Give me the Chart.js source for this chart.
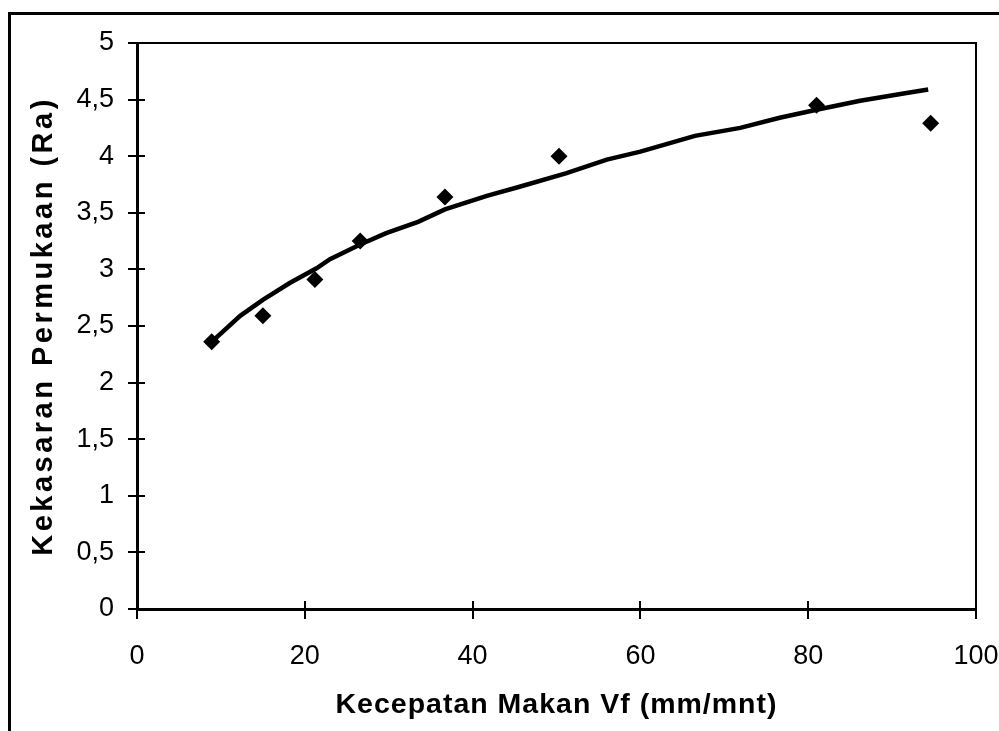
<!DOCTYPE html>
<html>
<head>
<meta charset="utf-8">
<script src="https://cdn.jsdelivr.net/npm/chart.js@4"></script>
<style>
html,body{margin:0;padding:0;background:#fff;}
canvas{display:block;}
</style>
</head>
<body>
<canvas id="c" width="999" height="731"></canvas>
<script>
// Measured data (Kecepatan Makan Vf vs Kekasaran Permukaan Ra)
const dataX = [8.9, 15.0, 21.2, 26.6, 36.7, 50.3, 81.0, 94.6];
const dataY = [2.36, 2.59, 2.91, 3.25, 3.64, 4.00, 4.45, 4.29];
// Trend line
const trendX = [8.9, 12.3, 15.0, 18.2, 21.4, 23.0, 26.6, 29.7, 33.5, 36.7, 41.7, 45.6, 51.2, 56.0, 60.0, 66.5, 71.9, 76.6, 81.0, 86.2, 91.0, 94.3];
const trendY = [2.36, 2.59, 2.73, 2.88, 3.01, 3.09, 3.22, 3.32, 3.42, 3.53, 3.65, 3.73, 3.85, 3.97, 4.04, 4.18, 4.25, 4.34, 4.41, 4.49, 4.55, 4.59];
const xTitle = 'Kecepatan Makan Vf (mm/mnt)';
const yTitle = 'Kekasaran Permukaan (Ra)';

const pts = dataX.map((x, i) => ({x: x, y: dataY[i]}));
const trend = trendX.map((x, i) => ({x: x, y: trendY[i]}));

const FONT = "'Liberation Sans', Arial, sans-serif";

const framePlugin = {
  id: 'frame',
  beforeDraw(chart) {
    const ctx = chart.ctx;
    ctx.save();
    ctx.fillStyle = '#fff';
    ctx.fillRect(0, 0, chart.width, chart.height);
    ctx.strokeStyle = '#000';
    ctx.lineWidth = 3;
    ctx.strokeRect(9.5, 13.5, 1200, 1200);
    ctx.restore();
    // letter spacing for axis titles
    const sp = {x: '1px', y: '3.5px'};
    ['x', 'y'].forEach(id => {
      const s = chart.scales[id];
      if (s && !s._lsWrapped) {
        const orig = s.drawTitle;
        s.drawTitle = function() {
          const c = this.ctx;
          const prev = c.letterSpacing;
          c.letterSpacing = sp[id];
          orig.call(this);
          c.letterSpacing = prev || '0px';
        };
        s._lsWrapped = true;
      }
    });
  },
  beforeDatasetsDraw(chart) {
    const {ctx, chartArea: a, scales} = chart;
    ctx.save();
    ctx.strokeStyle = '#000';
    // top and right frame of plot area
    ctx.lineWidth = 2;
    ctx.beginPath();
    ctx.moveTo(a.left, a.top);
    ctx.lineTo(a.right, a.top);
    ctx.lineTo(a.right, a.bottom);
    ctx.stroke();
    // inner tick extensions
    ctx.lineWidth = 2;
    ctx.beginPath();
    scales.x.ticks.forEach(t => {
      const px = Math.round(scales.x.getPixelForValue(t.value));
      ctx.moveTo(px, a.bottom);
      ctx.lineTo(px, a.bottom - 8);
    });
    scales.y.ticks.forEach(t => {
      const py = Math.round(scales.y.getPixelForValue(t.value));
      ctx.moveTo(a.left, py);
      ctx.lineTo(a.left + 8, py);
    });
    ctx.stroke();
    ctx.restore();
  }
};

new Chart(document.getElementById('c'), {
  type: 'scatter',
  data: {
    datasets: [
      {
        label: 'Data',
        data: pts,
        showLine: false,
        pointStyle: 'rectRot',
        pointRadius: 8.5,
        pointHoverRadius: 8.5,
        backgroundColor: '#000',
        borderColor: '#000',
        borderWidth: 0
      },
      {
        label: 'Trend',
        data: trend,
        showLine: true,
        pointRadius: 0,
        borderColor: '#000',
        borderWidth: 4.5,
        tension: 0,
        fill: false
      }
    ]
  },
  options: {
    responsive: false,
    animation: false,
    devicePixelRatio: 1,
    layout: {padding: {top: 43, right: 23, left: 0, bottom: 0}},
    plugins: {legend: {display: false}, tooltip: {enabled: false}},
    scales: {
      x: {
        type: 'linear',
        min: 0, max: 100,
        afterFit(s) { s.height = 122; s.paddingRight = 0; s.paddingLeft = 0; },
        ticks: {stepSize: 20, color: '#000', padding: 21, font: {family: FONT, size: 27}},
        grid: {drawOnChartArea: false, drawTicks: true, tickLength: 10, color: '#000', lineWidth: 2},
        border: {display: true, color: '#000', width: 3},
        title: {display: true, text: xTitle, color: '#000', padding: {top: 0, bottom: 9}, font: {family: FONT, size: 28.5, weight: 'bold'}}
      },
      y: {
        type: 'linear',
        min: 0, max: 5,
        afterFit(s) { s.width = 137; s.paddingTop = 0; s.paddingBottom = 0; },
        ticks: {
          stepSize: 0.5, color: '#000', padding: 14,
          font: {family: FONT, size: 27},
          callback: v => String(v).replace('.', ',')
        },
        grid: {drawOnChartArea: false, drawTicks: true, tickLength: 9, color: '#000', lineWidth: 2},
        border: {display: true, color: '#000', width: 3},
        title: {display: true, text: yTitle, color: '#000', padding: {top: 27, bottom: 0}, font: {family: FONT, size: 29, weight: 'bold'}}
      }
    }
  },
  plugins: [framePlugin]
});
</script>
</body>
</html>
